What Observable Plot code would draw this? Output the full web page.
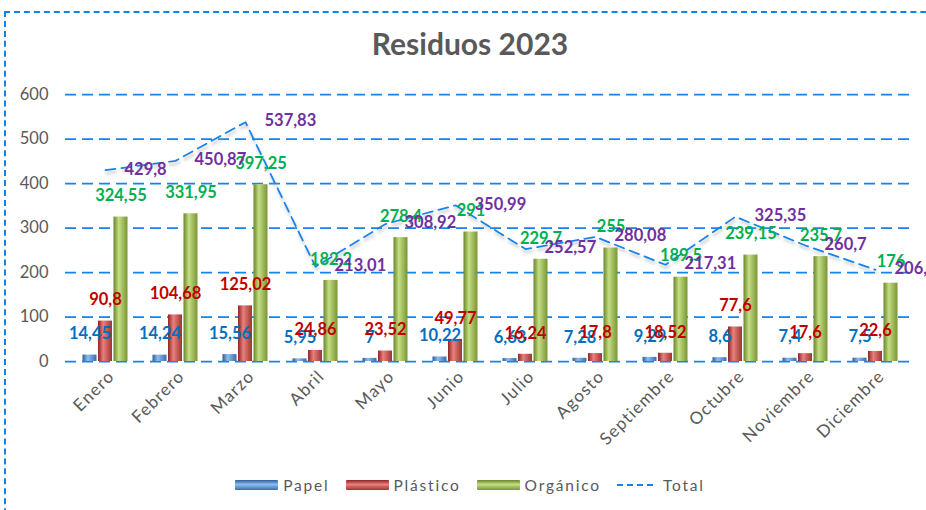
<!DOCTYPE html>
<html>
<head>
<meta charset="utf-8">
<script src="https://cdn.jsdelivr.net/npm/d3@7"></script>
<script src="https://cdn.jsdelivr.net/npm/@observablehq/plot@0.6"></script>
<style>
  html, body { margin: 0; padding: 0; background: #fff; }
  #wrap { position: relative; width: 926px; height: 510px; overflow: hidden; font-family: Lato, "Open Sans", sans-serif; }
  #frame { position: absolute; left: 4px; top: 11px; width: 1000px; height: 700px;
           border-left: 2.5px dashed #0A84EE; border-top: 2px dashed #0A84EE; pointer-events: none; }
  #title { height: 70px; box-sizing: border-box; padding-top: 26px; padding-left: 14px; text-align: center;
           font-size: 30px; line-height: 34px; font-weight: bold; color: #595959; }
  #chart svg { display: block; }
  #chart svg g[aria-label="x-axis tick label"] text { letter-spacing: 1.2px; }
  #legend { height: 30px; display: flex; justify-content: center; align-items: center; padding-left: 14px;
            font-size: 15.5px; color: #595959; letter-spacing: 1.8px; }
  .item { display: flex; align-items: center; margin: 0 8px; }
  .sw { width: 43px; height: 10px; margin-right: 5px; border-radius: 1px; }
  .dash { width: 36px; height: 0; border-top: 2px dashed #1683EA; margin-right: 10px; }
</style>
</head>
<body>
<div id="wrap">
  <div id="title">Residuos 2023</div>
  <div id="chart"></div>
  <div id="legend"></div>
  <div id="frame"></div>
</div>
<script>
const months = ["Enero","Febrero","Marzo","Abril","Mayo","Junio","Julio","Agosto","Septiembre","Octubre","Noviembre","Diciembre"];
const papel = [14.45, 14.24, 15.56, 5.95, 7, 10.22, 6.63, 7.28, 9.29, 8.6, 7.4, 7.5];
const plastico = [90.8, 104.68, 125.02, 24.86, 23.52, 49.77, 16.24, 17.8, 18.52, 77.6, 17.6, 22.6];
const organico = [324.55, 331.95, 397.25, 182.2, 278.4, 291, 229.7, 255, 189.5, 239.15, 235.7, 176];
const total = [429.8, 450.87, 537.83, 213.01, 308.92, 350.99, 252.57, 280.08, 217.31, 325.35, 260.7, 206.1];
const yTicks = [0, 100, 200, 300, 400, 500, 600];
const seriesNames = ["Papel", "Plástico", "Orgánico", "Total"];

const data = months.map((m, i) => ({month: m, papel: papel[i], plastico: plastico[i], organico: organico[i], total: total[i]}));
const fmt = v => String(v).replace(".", ",");

const BLUE = "#1683EA";
const grads = [
  ["gPapel", "#2F5E97", "#8DBDF0", "#3A6DAA"],
  ["gPlast", "#8A2523", "#E8807D", "#9E3331"],
  ["gOrg",   "#6A8528", "#C4DE84", "#789533"]
];
const defs = () => {
  const d = d3.create("svg:defs");
  for (const [id, dark, light, dark2] of grads) {
    const lg = d.append("linearGradient").attr("id", id).attr("x1", 0).attr("x2", 1).attr("y1", 0).attr("y2", 0);
    lg.append("stop").attr("offset", "0%").attr("stop-color", dark);
    lg.append("stop").attr("offset", "38%").attr("stop-color", light);
    lg.append("stop").attr("offset", "100%").attr("stop-color", dark2);
  }
  const f = d.append("filter").attr("id", "shadow").attr("x", "-10%").attr("y", "-10%").attr("width", "120%").attr("height", "130%");
  f.append("feGaussianBlur").attr("stdDeviation", 1.5);
  return d.node();
};

const off = 15.5;
const chart = Plot.plot({
  width: 926,
  height: 400,
  marginTop: 24,
  marginBottom: 109,
  marginLeft: 65,
  marginRight: 11,
  style: {background: "transparent", overflow: "visible", fontFamily: "Lato, 'Open Sans', sans-serif"},
  x: {domain: months, paddingInner: 0.802, paddingOuter: 0.401},
  y: {domain: [0, 600]},
  marks: [
    defs,
    Plot.gridY(yTicks, {stroke: BLUE, strokeOpacity: 1, strokeWidth: 1.75, strokeDasharray: "11,6"}),
    Plot.axisY(yTicks, {tickSize: 0, tickPadding: 17, fontSize: 16.5, color: "#595959", label: null}),
    Plot.axisX({tickRotate: -45, tickSize: 0, tickPadding: 12, dx: 6, fontSize: 17, color: "#595959", label: null}),
    Plot.barY(data, {x: "month", y: "papel", dx: -off, fill: "url(#gPapel)"}),
    Plot.barY(data, {x: "month", y: "plastico", dx: 0, fill: "url(#gPlast)"}),
    Plot.barY(data, {x: "month", y: "organico", dx: off, fill: "url(#gOrg)"}),
    Plot.lineY(data, {x: "month", y: "total", dx: 1, dy: 3, stroke: "#9a9a9a", strokeOpacity: 0.45, strokeWidth: 2.5, strokeDasharray: "10,6", render: (i, s, v, d, c, next) => { const g = next(i, s, v, d, c); g.setAttribute("filter", "url(#shadow)"); return g; }}),
    Plot.lineY(data, {x: "month", y: "total", stroke: BLUE, strokeWidth: 1.75, strokeDasharray: "10,6"}),
    Plot.text(data, {x: "month", y: "papel", text: d => fmt(d.papel), dx: -off, dy: -21, fill: "#0070C0", fontWeight: "bold", fontSize: 16.5}),
    Plot.text(data, {x: "month", y: "plastico", text: d => fmt(d.plastico), dy: -21, fill: "#C00000", fontWeight: "bold", fontSize: 16.5}),
    Plot.text(data, {x: "month", y: "organico", text: d => fmt(d.organico), dx: off, dy: -21, fill: "#00B050", fontWeight: "bold", fontSize: 16.5}),
    Plot.text(data, {x: "month", y: "total", text: d => fmt(d.total), dx: 19, dy: -1, textAnchor: "start", fill: "#7030A0", fontWeight: "bold", fontSize: 16.5})
  ]
});
document.getElementById("chart").appendChild(chart);

const legend = document.getElementById("legend");
const swatchCss = [
  "linear-gradient(to bottom, #2F5E97, #8DBDF0 45%, #3A6DAA)",
  "linear-gradient(to bottom, #8A2523, #E8807D 45%, #9E3331)",
  "linear-gradient(to bottom, #6A8528, #C4DE84 45%, #789533)"
];
seriesNames.forEach((name, i) => {
  const it = document.createElement("div");
  it.className = "item";
  const sw = document.createElement("div");
  if (i < 3) { sw.className = "sw"; sw.style.background = swatchCss[i]; }
  else { sw.className = "dash"; }
  it.appendChild(sw);
  const t = document.createElement("span");
  t.textContent = name;
  it.appendChild(t);
  legend.appendChild(it);
});
</script>
</body>
</html>
